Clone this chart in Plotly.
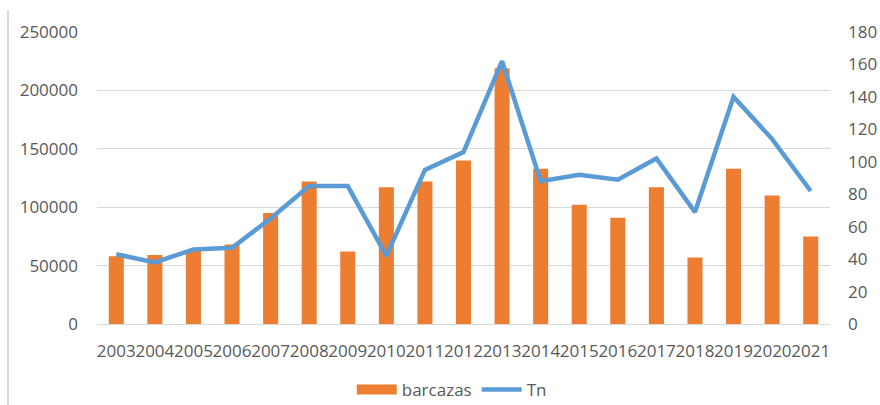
import plotly.graph_objects as go

# ----------------------------
# DATA
# ----------------------------

years = [str(y) for y in range(2003, 2022)]

barcazas = [58000, 59000, 62500, 68000, 95000, 122000, 62000, 117000, 122000,
            140000, 219000, 133000, 102000, 91000, 117000, 57000, 133000,
            110000, 75000]

tn = [43, 38, 46, 47, 65, 85, 85, 42, 95, 106, 162, 88, 92, 89, 102, 69,
      140, 114, 82]

left_ticks = [0, 50000, 100000, 150000, 200000, 250000]
right_ticks = [0, 20, 40, 60, 80, 100, 120, 140, 160, 180]

ORANGE = "#ED7D31"
BLUE = "#5B9BD5"
GREY = "#595959"
GRID = "#D9D9D9"
FONT = "Open Sans, Liberation Sans, sans-serif"

W, H = 880, 405
L, T, PW, PH = 97, 32, 733, 292

fig = go.Figure()

fig.add_trace(go.Bar(
    x=years,
    y=barcazas,
    name="barcazas",
    marker=dict(color=ORANGE, line=dict(width=0)),
    showlegend=False,
    yaxis="y",
))

# legend entry only: wide orange swatch like the Excel legend
fig.add_trace(go.Scatter(
    x=[None],
    y=[None],
    name="barcazas",
    mode="lines",
    line=dict(color=ORANGE, width=10),
    yaxis="y",
))

fig.add_trace(go.Scatter(
    x=years,
    y=tn,
    name="Tn",
    mode="lines",
    line=dict(color=BLUE, width=4.5, shape="linear"),
    yaxis="y2",
))

fig.update_layout(
    width=W,
    height=H,
    margin=dict(l=L, r=W - L - PW, t=T, b=H - T - PH, autoexpand=False),
    paper_bgcolor="white",
    plot_bgcolor="white",
    font=dict(family=FONT, size=17, color=GREY),
    bargap=0.61,
    showlegend=True,
    legend=dict(
        orientation="h",
        x=0.484, xanchor="center",
        y=-0.226, yanchor="middle",
        font=dict(size=17, color=GREY),
        itemwidth=40,
        traceorder="normal",
    ),
    xaxis=dict(
        type="category",
        dtick=1,
        tickangle=0,
        showgrid=False,
        showline=False,
        zeroline=False,
        ticks="",
        ticklabelstandoff=15,
        tickfont=dict(size=17, color=GREY),
    ),
    yaxis=dict(
        range=[0, 250000],
        tickvals=left_ticks,
        tickformat="d",
        showgrid=True,
        gridcolor=GRID,
        gridwidth=1.3,
        zeroline=True,
        zerolinecolor=GRID,
        zerolinewidth=1.3,
        ticks="",
        ticklabelstandoff=18,
        tickfont=dict(size=17, color=GREY),
    ),
    yaxis2=dict(
        range=[0, 180],
        tickvals=right_ticks,
        overlaying="y",
        side="right",
        showgrid=False,
        zeroline=False,
        ticks="",
        ticklabelstandoff=17,
        tickfont=dict(size=17, color=GREY),
    ),
    shapes=[dict(
        type="line", xref="paper", yref="paper",
        x0=(8 - L) / PW, x1=(8 - L) / PW,
        y0=-(H - T - PH) / PH, y1=(T + PH - 10) / PH,
        line=dict(color=GRID, width=2),
    )],
)

# drop the default page margin so the figure fills the window exactly
fig.write_html("out.html",
               config={"displayModeBar": False},
               post_script="document.body.style.margin='0';"
                           "document.body.style.overflow='hidden';")
